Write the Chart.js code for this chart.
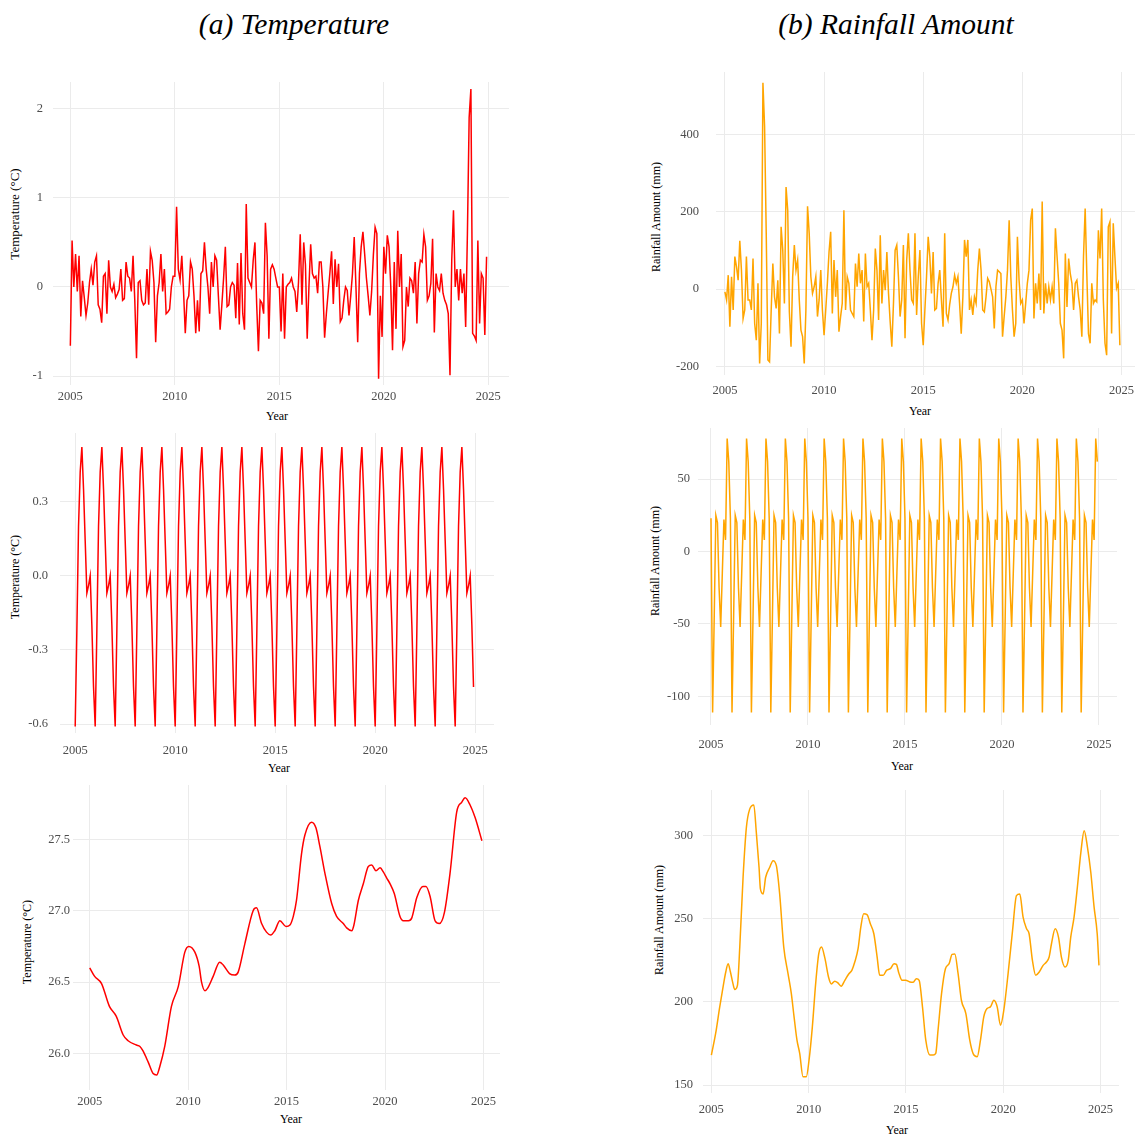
<!DOCTYPE html>
<html>
<head>
<meta charset="utf-8">
<script src="https://cdn.jsdelivr.net/npm/chart.js@4.4.1/dist/chart.umd.min.js"></script>
<style>
  body { margin: 0; background: #fff; }
  #page { position: relative; width: 1135px; height: 1135px; overflow: hidden; font-family: "Liberation Serif", "Times New Roman", serif; color: #000; }
  .panel { position: absolute; }
  .heading { position: absolute; font-style: italic; font-size: 29.5px; transform: translate(-50%, -50%); white-space: nowrap; }
  .xtitle { position: absolute; font-size: 12px; transform: translate(-50%, -50%); white-space: nowrap; }
  .ytitle { position: absolute; font-size: 12px; transform: translate(-50%, -50%) rotate(-90deg); white-space: nowrap; }
</style>
</head>
<body>
<div id="page">
  <div class="heading" style="left:294px; top:24px;">(a) Temperature</div>
  <div class="heading" style="left:896px; top:24px;">(b) Rainfall Amount</div>

  <div class="ytitle" style="left:15px; top:214px; font-size:13px;">Temperature (°C)</div>
  <div class="ytitle" style="left:656px; top:217px;">Rainfall Amount (mm)</div>
  <div class="ytitle" style="left:15px; top:577px;">Temperature (°C)</div>
  <div class="ytitle" style="left:655px; top:561px;">Rainfall Amount (mm)</div>
  <div class="ytitle" style="left:27px; top:942px;">Temperature (°C)</div>
  <div class="ytitle" style="left:659px; top:920px;">Rainfall Amount (mm)</div>

  <div class="xtitle" style="left:277px; top:416px;">Year</div>
  <div class="xtitle" style="left:920px; top:411px;">Year</div>
  <div class="xtitle" style="left:279px; top:768px;">Year</div>
  <div class="xtitle" style="left:902px; top:766px;">Year</div>
  <div class="xtitle" style="left:291px; top:1119px;">Year</div>
  <div class="xtitle" style="left:897px; top:1130px;">Year</div>
</div>
<script>
// monthly series, Jan 2005 .. Dec 2024
const startYear = 2005;
const months = Array.from({ length: 240 }, (_, i) => startYear + i / 12);
const yearTicks = [2005, 2010, 2015, 2020, 2025];

// residual component, temperature (°C), one row per year
const tempResidual = [
  -0.66, 0.52, 0.0, 0.37, -0.05, 0.35, -0.33, 0.07, -0.12, -0.32, -0.18, 0.05,
  0.2, 0.02, 0.28, 0.35, -0.2, -0.25, -0.4, 0.12, 0.15, -0.3, 0.3, 0.0,
  -0.05, 0.03, -0.12, -0.08, -0.03, 0.2, -0.15, -0.13, 0.28, 0.12, 0.1, -0.05,
  0.35, -0.15, -0.8, 0.05, 0.07, -0.15, -0.2, -0.18, 0.2, -0.2, 0.4, 0.3,
  0.05, -0.62, -0.1, 0.05, 0.37, -0.05, 0.2, -0.3, -0.28, -0.25, 0.0, 0.12,
  0.12, 0.9, 0.2, 0.08, 0.35, -0.05, -0.52, -0.15, -0.1, 0.28, 0.2, -0.1,
  -0.52, -0.15, -0.5, 0.15, 0.18, 0.5, 0.2, 0.0, -0.3, 0.28, 0.0, 0.35,
  0.3, -0.1, -0.48, -0.2, 0.1, 0.45, -0.22, -0.2, 0.0, 0.05, 0.02, -0.35,
  0.27, -0.42, 0.38, -0.3, -0.48, 0.93, 0.1, 0.05, 0.0, 0.3, 0.5, -0.2,
  -0.72, -0.15, -0.18, -0.3, 0.72, 0.35, -0.58, 0.2, 0.25, 0.2, 0.1, 0.0,
  0.0, -0.5, 0.15, -0.58, 0.0, 0.03, 0.05, 0.1, 0.0, -0.05, -0.28, 0.05,
  0.59, -0.2, 0.5, 0.25, -0.58, 0.0, 0.48, 0.15, 0.1, 0.12, -0.07, 0.28,
  0.28, 0.0, -0.57, -0.3, -0.07, 0.15, 0.4, -0.19, 0.31, 0.0, 0.26, -0.39,
  -0.35, -0.15, 0.0, -0.04, -0.32, -0.1, 0.15, 0.56, 0.0, -0.62, 0.15, 0.45,
  0.62, 0.37, 0.1, -0.1, -0.32, -0.05, 0.36, 0.67, 0.6, -1.03, -0.1, -0.56,
  0.45, 0.15, 0.58, 0.45, 0.0, -0.71, 0.28, -0.47, 0.63, 0.0, 0.37, -0.67,
  -0.6, 0.0, -0.22, 0.1, 0.07, -0.07, 0.28, -0.41, 0.15, 0.3, 0.28, 0.59,
  0.45, -0.15, -0.1, 0.04, 0.54, -0.51, 0.15, 0.0, -0.04, 0.15, -0.07, -0.15,
  -0.2, -0.3, -0.99, 0.3, 0.86, 0.0, 0.2, -0.15, 0.2, -0.07, 0.15, -0.45,
  0.6, 1.9, 2.22, -0.52, -0.55, -0.6, 0.52, -0.41, 0.15, 0.1, -0.54, 0.34
];

// residual component, rainfall (mm), one row per year
const rainResidual = [
  -7, -28, 36, -97, 32, -54, 84, 58, 23, 125, 49, -76,
  -54, 84, -28, -28, -54, 79, -89, -132, 15, -192, -89, 533,
  420, 144, -183, -188, -54, 66, -20, -50, 23, -115, 161, 101,
  -37, 264, 204, -59, -149, 32, 114, 49, 75, -28, -106, -123,
  -192, -54, 214, 144, 32, -11, 6, 32, -71, -28, 49, -54,
  -119, -54, 15, 96, 148, -63, 75, -20, 49, -110, -71, -37,
  204, -54, 32, 15, -54, -63, -71, 66, 6, 92, 15, 49,
  -84, 92, 6, 15, -54, -132, -54, 105, 49, -80, 139, -37,
  49, -3, 96, -11, -84, -149, -37, 101, 114, 32, -71, -28,
  114, -127, 75, 144, 49, -28, -37, 144, -67, 32, 101, -89,
  -145, -54, 32, 135, 84, -11, 96, -54, -50, 15, 49, -28,
  -97, 144, -63, -80, -40, -11, 6, 36, 15, 32, -37, -115,
  -20, 127, 84, 127, -54, -28, -67, -20, -37, 49, 105, 49,
  -54, -59, -20, 28, 19, 0, -20, -102, 6, 49, 45, 40,
  -123, -70, -20, 49, 178, 32, -54, -123, -89, 135, 23, -37,
  -28, -89, -37, 15, 49, 178, 208, -76, 15, -37, 40, -54,
  226, -63, 15, -37, 6, -28, 6, -37, 157, 84, 15, -89,
  -106, -179, 92, -46, 79, 40, 15, -54, 15, 23, -20, -54,
  -123, 84, 208, 40, -115, -140, 15, -37, -28, -33, 152, 79,
  208, -28, -140, -171, 161, 174, -115, 170, 84, 2, 15, -145
];

// seasonal component: the same Jan..Dec figure every year
const tempSeasonMonth = [-0.61, -0.22, 0.2, 0.42, 0.52, 0.35, 0.14, -0.07, -0.04, 0.0, -0.2, -0.45];
const rainSeasonMonth = [23, -111, -45, 25, 20, -25, -52, -15, 22, 8, 78, 62];
const tempSeasonal = months.map((_, i) => tempSeasonMonth[i % 12]);
const rainSeasonal = months.map((_, i) => rainSeasonMonth[i % 12]);

// trend component
const tempTrendYears = [
  2005.0, 2005.25, 2005.6, 2006.0, 2006.35, 2006.7, 2006.95, 2007.37, 2007.55, 2007.7,
  2007.97, 2008.22, 2008.4, 2008.56, 2008.81, 2009.15, 2009.5, 2009.83, 2010.03, 2010.34,
  2010.56, 2010.68, 2010.85, 2011.0, 2011.27, 2011.6, 2011.78, 2012.1, 2012.37, 2012.54,
  2012.88, 2013.3, 2013.47, 2013.73, 2013.98, 2014.19, 2014.4, 2014.66, 2014.97, 2015.17,
  2015.34, 2015.5, 2015.76, 2015.93, 2016.27, 2016.49, 2016.69, 2016.95, 2017.29, 2017.54,
  2017.88, 2018.05, 2018.31, 2018.42, 2018.64, 2018.9, 2019.15, 2019.32, 2019.54, 2019.75,
  2019.92, 2020.08, 2020.25, 2020.47, 2020.76, 2020.93, 2021.19, 2021.36, 2021.61, 2021.92,
  2022.08, 2022.29, 2022.54, 2022.76, 2023.02, 2023.3, 2023.64, 2023.9, 2024.07, 2024.32,
  2024.58, 2024.92
];
const tempTrend = [
  26.60, 26.54, 26.49, 26.33, 26.26, 26.13, 26.09, 26.06, 26.05, 26.02,
  25.94, 25.86, 25.85, 25.91, 26.05, 26.33, 26.47, 26.71, 26.75, 26.71,
  26.61, 26.50, 26.44, 26.46, 26.54, 26.64, 26.62, 26.56, 26.55, 26.57,
  26.77, 27.00, 27.02, 26.91, 26.85, 26.83, 26.86, 26.93, 26.89, 26.90,
  26.96, 27.07, 27.40, 27.53, 27.62, 27.58, 27.45, 27.26, 27.05, 26.96,
  26.91, 26.88, 26.86, 26.90, 27.07, 27.19, 27.31, 27.32, 27.28, 27.30,
  27.27, 27.23, 27.19, 27.12, 26.96, 26.93, 26.93, 26.95, 27.09, 27.17,
  27.17, 27.10, 26.93, 26.91, 26.99, 27.26, 27.69, 27.76, 27.79, 27.74,
  27.65, 27.49
];

const rainTrendYears = [
  2005.0, 2005.22, 2005.43, 2005.63, 2005.74, 2005.86, 2005.98, 2006.11, 2006.2, 2006.34,
  2006.46, 2006.63, 2006.8, 2006.97, 2007.18, 2007.31, 2007.45, 2007.52, 2007.66, 2007.79,
  2008.0, 2008.17, 2008.34, 2008.51, 2008.72, 2008.94, 2009.11, 2009.25, 2009.4, 2009.54,
  2009.71, 2009.88, 2010.02, 2010.19, 2010.36, 2010.52, 2010.66, 2010.84, 2011.02, 2011.17,
  2011.34, 2011.5, 2011.67, 2011.86, 2012.06, 2012.22, 2012.37, 2012.54, 2012.68, 2012.83,
  2013.0, 2013.17, 2013.35, 2013.52, 2013.65, 2013.83, 2014.0, 2014.2, 2014.39, 2014.51,
  2014.63, 2014.8, 2014.99, 2015.2, 2015.37, 2015.54, 2015.68, 2015.85, 2016.02, 2016.23,
  2016.4, 2016.53, 2016.65, 2016.83, 2017.03, 2017.22, 2017.37, 2017.51, 2017.68, 2017.85,
  2018.08, 2018.28, 2018.45, 2018.66, 2018.83, 2019.0, 2019.17, 2019.34, 2019.52, 2019.69,
  2019.86, 2020.03, 2020.25, 2020.48, 2020.68, 2020.85, 2021.02, 2021.2, 2021.33, 2021.5,
  2021.67, 2021.85, 2022.05, 2022.22, 2022.36, 2022.48, 2022.67, 2022.84, 2022.99, 2023.18,
  2023.34, 2023.47, 2023.64, 2023.81, 2023.99, 2024.16, 2024.33, 2024.5, 2024.67, 2024.83,
  2024.92
];
const rainTrend = [
  168, 181, 197, 211, 218, 223, 218, 211, 207.5, 210,
  233, 275, 305, 316, 318.5, 302, 281, 268, 265, 275,
  281, 285, 282, 265, 233, 217, 205, 191, 177, 169,
  155, 155, 165, 185, 211, 229, 233, 226, 215, 210.8,
  212.5, 211.5, 209.5, 213, 216.8, 219, 224, 232, 245, 253,
  252.5, 247, 241, 227, 216, 216, 219, 220, 223, 222.6,
  217.6, 213, 213, 212, 211.8, 214, 213, 197, 177, 168,
  168, 169, 183, 205, 220, 223, 228.6, 228.8, 217, 201,
  193, 177, 169, 167, 177, 191, 196, 197, 201, 197,
  186, 195, 217, 243, 264, 265, 251, 244, 241, 225,
  216, 218, 222, 224, 227, 235, 244, 239, 227, 221,
  225, 239, 251, 269, 290, 303, 293, 278, 257, 241,
  222
];

const tempColor = '#FF0000';
const rainColor = '#FFA500';
const gridColor = '#EBEBEB';
const tickColor = '#4D4D4D';
const tickFont = { family: 'Liberation Serif', size: 12.5 };

const page = document.getElementById('page');

// pin the axis boxes so the plot area lands exactly where it should
function pinScale(s, size) {
  if (s.isHorizontal()) s.height = size; else s.width = size;
  s.paddingTop = 0; s.paddingBottom = 0; s.paddingLeft = 0; s.paddingRight = 0;
}

function makePanel(cfg) {
  const yW = 50, pT = 10, xH = 30;
  const pR = cfg.padRight;
  const [l, t, r, b] = cfg.plot;
  const w = yW + (r - l) + pR;
  const h = pT + (b - t) + xH;

  const wrap = document.createElement('div');
  wrap.className = 'panel';
  wrap.style.left = (l - yW) + 'px';
  wrap.style.top = (t - pT) + 'px';
  const canvas = document.createElement('canvas');
  canvas.width = w;
  canvas.height = h;
  wrap.appendChild(canvas);
  page.appendChild(wrap);

  new Chart(canvas, {
    type: 'line',
    data: {
      datasets: [{
        data: cfg.xs.map((x, i) => ({ x: x, y: cfg.ys[i] })),
        borderColor: cfg.color,
        borderWidth: 1.5,
        pointRadius: 0,
        tension: 0,
        cubicInterpolationMode: cfg.smooth ? 'monotone' : 'default',
        fill: false
      }]
    },
    options: {
      responsive: false,
      animation: false,
      layout: { padding: { top: pT, right: pR, left: 0, bottom: 0 } },
      plugins: { legend: { display: false }, tooltip: { enabled: false } },
      scales: {
        x: {
          type: 'linear',
          min: cfg.xRange[0],
          max: cfg.xRange[1],
          afterFit: s => pinScale(s, xH),
          afterBuildTicks: s => { s.ticks = yearTicks.map(v => ({ value: v })); },
          grid: { color: gridColor, lineWidth: 1, drawTicks: false },
          border: { display: false },
          ticks: { padding: cfg.xPad, color: tickColor, font: tickFont, maxRotation: 0, autoSkip: false,
                   callback: v => String(v) }
        },
        y: {
          type: 'linear',
          min: cfg.yRange[0],
          max: cfg.yRange[1],
          afterFit: s => pinScale(s, yW),
          afterBuildTicks: s => { s.ticks = cfg.yTicks.map(v => ({ value: v })); },
          grid: { color: gridColor, lineWidth: 1, drawTicks: false },
          border: { display: false },
          ticks: { padding: cfg.yPad, color: tickColor, font: tickFont, autoSkip: false,
                   callback: v => v.toFixed(cfg.dec) }
        }
      }
    }
  });
}

// (a) residual
makePanel({ plot: [53, 82, 509, 385], padRight: 6, xs: months, ys: tempResidual, color: tempColor,
  xRange: [2004.17, 2025.99], yRange: [-1.10, 2.30], yTicks: [-1, 0, 1, 2], dec: 0, yPad: 10, xPad: 4 });
// (b) residual
makePanel({ plot: [716, 72, 1135, 375], padRight: 0, xs: months, ys: rainResidual, color: rainColor,
  xRange: [2004.55, 2025.68], yRange: [-222, 561], yTicks: [-200, 0, 200, 400], dec: 0, yPad: 17, xPad: 8 });
// (a) seasonal
makePanel({ plot: [60, 433, 494, 733], padRight: 6, xs: months, ys: tempSeasonal, color: tempColor,
  xRange: [2004.24, 2025.94], yRange: [-0.636, 0.577], yTicks: [-0.6, -0.3, 0, 0.3], dec: 1, yPad: 12, xPad: 10 });
// (b) seasonal
makePanel({ plot: [698, 428, 1117, 725], padRight: 6, xs: months, ys: rainSeasonal, color: rainColor,
  xRange: [2004.33, 2025.93], yRange: [-119.7, 85.2], yTicks: [-100, -50, 0, 50], dec: 0, yPad: 8, xPad: 12 });
// (a) trend
makePanel({ plot: [73, 785, 500, 1090], padRight: 6, xs: tempTrendYears, ys: tempTrend, color: tempColor, smooth: true,
  xRange: [2004.15, 2025.84], yRange: [25.745, 27.88], yTicks: [26, 26.5, 27, 27.5], dec: 1, yPad: 3, xPad: 4 });
// (b) trend
makePanel({ plot: [703, 790, 1119, 1093], padRight: 6, xs: rainTrendYears, ys: rainTrend, color: rainColor, smooth: true,
  xRange: [2004.57, 2025.95], yRange: [145.2, 327.5], yTicks: [150, 200, 250, 300], dec: 0, yPad: 10, xPad: 9 });
</script>
</body>
</html>
